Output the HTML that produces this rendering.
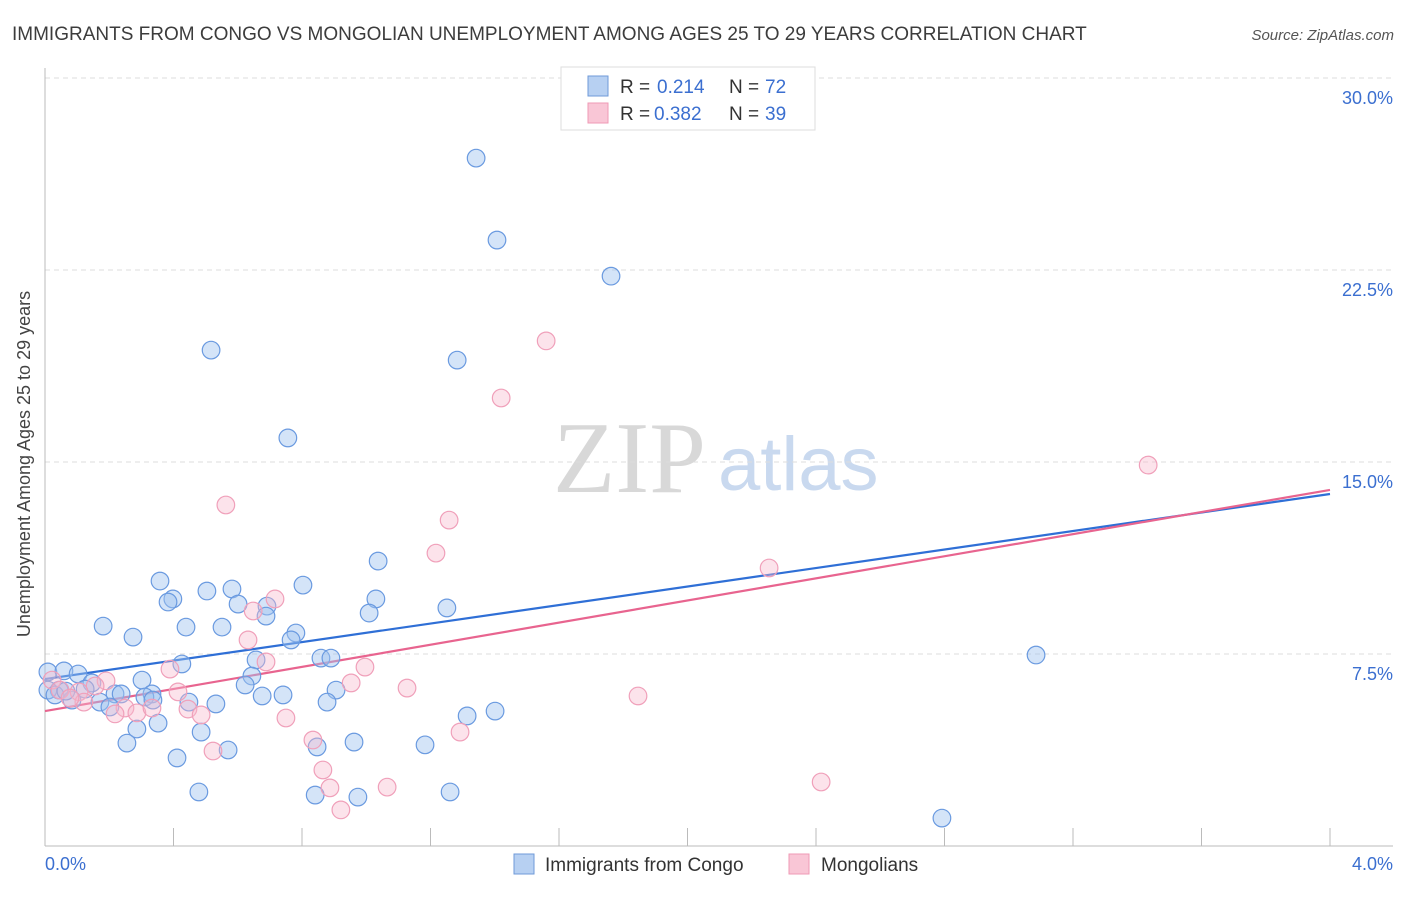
<!DOCTYPE html>
<html><head><meta charset="utf-8"><style>
body{margin:0;background:#fff;font-family:"Liberation Sans",sans-serif;}
svg text{font-family:"Liberation Sans",sans-serif;}
</style></head><body>
<svg width="1406" height="892" viewBox="0 0 1406 892">
<text x="12" y="40" font-size="19" fill="#3c3c3c">IMMIGRANTS FROM CONGO VS MONGOLIAN UNEMPLOYMENT AMONG AGES 25 TO 29 YEARS CORRELATION CHART</text>
<text x="1394" y="40" font-size="15" fill="#555" font-style="italic" text-anchor="end">Source: ZipAtlas.com</text>
<g>
<text x="553" y="492" font-size="102" fill="#d8d8d8" style="font-family:'Liberation Serif',serif">ZIP</text>
<text x="718" y="490" font-size="76" fill="#c9d9ef">atlas</text>
</g>
<g id="grid"></g>
<g id="axes"></g>
<g id="lines"></g>
<g id="pts"></g>
<text x="22" y="456" font-size="18" fill="#444" transform="rotate(-90 30 456)" text-anchor="middle">Unemployment Among Ages 25 to 29 years</text>
<g>
<rect x="561" y="67" width="254" height="63" fill="#fff" stroke="#ddd"/>
<rect x="588" y="76" width="20" height="20" fill="#b7d0f2" stroke="#6f9ad8"/>
<rect x="588" y="103" width="20" height="20" fill="#f9c6d6" stroke="#ef9ab5"/>
<text x="620" y="93" font-size="19" fill="#333">R =</text>
<text x="657" y="93" font-size="19" fill="#3b6fd0">0.214</text>
<text x="729" y="93" font-size="19" fill="#333">N =</text>
<text x="765" y="93" font-size="19" fill="#3b6fd0">72</text>
<text x="620" y="120" font-size="19" fill="#333">R =</text>
<text x="654" y="120" font-size="19" fill="#3b6fd0">0.382</text>
<text x="729" y="120" font-size="19" fill="#333">N =</text>
<text x="765" y="120" font-size="19" fill="#3b6fd0">39</text>
</g>
<g>
<rect x="514" y="854" width="20" height="20" fill="#b7d0f2" stroke="#6f9ad8"/>
<text x="545" y="871" font-size="19" fill="#333">Immigrants from Congo</text>
<rect x="789" y="854" width="20" height="20" fill="#f9c6d6" stroke="#ef9ab5"/>
<text x="821" y="871" font-size="19" fill="#333">Mongolians</text>
</g>
</svg>
<script>
const congoX=[1.342,1.407,1.762,0.517,1.283,0.756,1.037,0.358,0.803,0.504,0.582,0.398,0.383,0.601,1.030,1.251,0.691,0.688,1.009,0.181,0.439,0.551,0.274,0.781,0.766,0.859,0.890,3.085,0.426,0.657,0.009,0.059,0.103,0.302,0.644,0.146,0.623,0.906,0.044,0.125,0.218,0.237,0.333,0.676,0.741,0.084,0.171,0.448,0.532,0.878,0.202,1.314,1.401,0.286,0.352,0.486,0.255,0.570,0.847,0.962,1.183,0.411,0.479,0.841,0.974,1.261,2.792,0.009,0.031,0.065,0.311,0.336];
const congoY=[26.87,23.67,22.26,19.37,18.98,15.94,11.13,10.35,10.19,9.96,10.04,9.65,9.53,9.45,9.65,9.30,9.37,8.98,9.10,8.59,8.55,8.55,8.16,8.32,8.05,7.34,7.34,7.46,7.11,7.27,6.80,6.84,6.72,6.48,6.64,6.37,6.29,6.09,6.09,6.13,5.94,5.94,5.94,5.86,5.90,5.70,5.62,5.62,5.55,5.62,5.43,5.08,5.27,4.57,4.80,4.45,4.02,3.75,3.87,4.06,3.95,3.44,2.11,1.99,1.91,2.11,1.09,6.09,5.90,6.05,5.82,5.70];
const mongX=[1.560,1.420,0.563,1.258,1.217,3.434,2.254,0.716,0.648,0.632,0.996,0.688,0.389,0.953,1.127,0.414,0.190,0.156,0.022,0.047,0.106,1.846,0.121,0.249,0.286,0.333,0.445,0.486,0.218,0.750,0.523,0.834,1.292,0.865,0.887,1.065,0.921,2.416,0.078];
const mongY=[19.73,17.50,13.32,12.73,11.44,14.88,10.86,9.65,9.18,8.05,6.99,7.19,6.91,6.37,6.17,6.02,6.45,6.25,6.48,6.09,6.02,5.86,5.62,5.39,5.20,5.39,5.35,5.12,5.16,5.00,3.71,4.14,4.45,2.97,2.27,2.30,1.41,2.50,5.78];
const trendCongo=[6.52,13.75];
const trendMong=[5.27,13.91];
const yTicks=[7.5,15,22.5,30];
const yTickLabels=["7.5%","15.0%","22.5%","30.0%"];
const xTicks=[0.4,0.8,1.2,1.6,2.0,2.4,2.8,3.2,3.6,4.0];
const NS="http://www.w3.org/2000/svg";
const X=v=>45+v/4*1285, Y=v=>846-v/7.5*192;
function mk(t,a,p){const e=document.createElementNS(NS,t);for(const k in a)e.setAttribute(k,a[k]);document.getElementById(p).appendChild(e);return e;}
yTicks.forEach((t,i)=>{
 const g=mk('line',{x1:45,x2:1393,y1:Y(t),y2:Y(t),stroke:'#ddd','stroke-dasharray':'5,4'},'grid');
 
 
 const l=mk('text',{x:1393,y:Y(t)+26,'font-size':18,fill:'#3b6fd0','text-anchor':'end'},'grid');
 l.textContent=yTickLabels[i];
 
 
});
const ax=mk('line',{x1:45,x2:45,y1:68,y2:846,stroke:'#bbb'},'axes');


const bx=mk('line',{x1:45,x2:1393,y1:846,y2:846,stroke:'#bbb'},'axes');


xTicks.forEach(t=>{const e=mk('line',{x1:X(t),x2:X(t),y1:828,y2:846,stroke:'#bbb'},'axes');
 
 });
const x0=mk('text',{x:45,y:870,'font-size':18,fill:'#3b6fd0'},'axes');x0.textContent='0.0%';


const x1=mk('text',{x:1393,y:870,'font-size':18,fill:'#3b6fd0','text-anchor':'end'},'axes');x1.textContent='4.0%';


function pts(xs,ys,fill,stroke,name){xs.forEach((x,i)=>{const c=mk('circle',{cx:X(x),cy:Y(ys[i]),r:8.8,fill:fill,stroke:stroke,'stroke-width':1.2},'pts');
 
 });}
pts(congoX,congoY,'rgba(160,196,240,0.45)','#6a9ae0','congo-point');
pts(mongX,mongY,'rgba(248,185,205,0.4)','#f0a0ba','mongolian-point');
const tl1=mk('line',{x1:X(0),y1:Y(trendCongo[0]),x2:X(4),y2:Y(trendCongo[1]),stroke:'#2f6fd6','stroke-width':2.2},'lines');


const tl2=mk('line',{x1:X(0),y1:Y(trendMong[0]),x2:X(4),y2:Y(trendMong[1]),stroke:'#e8648f','stroke-width':2.2},'lines');


</script>
</body></html>
